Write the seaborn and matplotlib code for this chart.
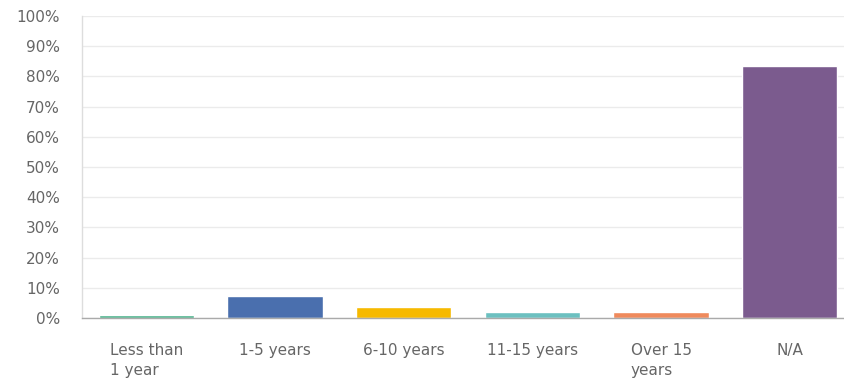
import matplotlib
matplotlib.use("Agg")
import matplotlib.pyplot as plt
import seaborn as sns
import pandas as pd
from matplotlib.ticker import FuncFormatter

categories = ["Less than\n1 year", "1-5 years", "6-10 years", "11-15 years", "Over 15\nyears", "N/A"]
values = [1.0, 7.2, 3.6, 2.0, 2.0, 83.6]
colors = ["#4db38c", "#4a6fae", "#f6b900", "#6cc0c0", "#ef8a5c", "#7b5b8e"]
yticks = list(range(0, 101, 10))

df = pd.DataFrame({"cat": categories, "val": values})

sns.set_theme(style="white")
plt.rcParams["font.family"] = ["DejaVu Sans"]

fig = plt.figure(figsize=(8.45, 3.87), dpi=100)
ax = fig.add_axes([82 / 845, 1 - 318 / 387, 1 - 82 / 845, (318 - 16) / 387])

sns.barplot(data=df, x="cat", y="val", hue="cat", palette=colors, legend=False,
            width=0.74, saturation=1, ax=ax)

ax.set_ylim(0, 100)
ax.set_xlim(-0.5, 5.43)
ax.set_yticks(yticks)
ax.yaxis.set_major_formatter(FuncFormatter(lambda v, p: f"{int(v)}%"))
ax.grid(axis="y", color="#ebebeb", linewidth=1)
ax.set_axisbelow(True)
ax.set_xlabel("")
ax.set_ylabel("")

for s in ["top", "right"]:
    ax.spines[s].set_visible(False)
ax.spines["left"].set_color("#dddddd")
ax.spines["bottom"].set_color("#aaaaaa")
ax.spines["left"].set_linewidth(1)
ax.spines["bottom"].set_linewidth(1)

ax.tick_params(axis="y", length=0, pad=16, labelsize=11, labelcolor="#666666")
ax.tick_params(axis="x", length=0, pad=18, labelsize=11, labelcolor="#666666")
for lbl in ax.get_xticklabels():
    lbl.set_multialignment("left")
    lbl.set_linespacing(1.4)
    lbl.set_verticalalignment("top")

fig.savefig("out.png", dpi=100)
